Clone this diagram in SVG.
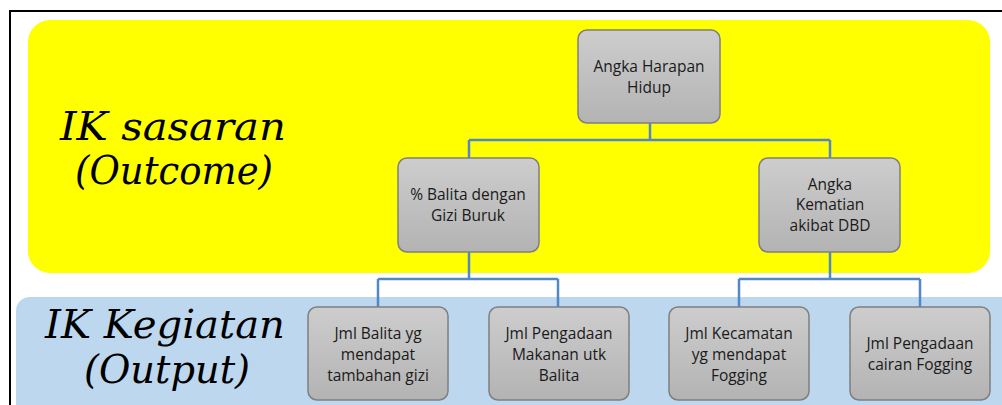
<svg xmlns="http://www.w3.org/2000/svg" width="1002" height="405" viewBox="0 0 1002 405">
<style>
.nbox{fill:url(#g);stroke:#7f7f7f;stroke-width:1.5}
.nt{font-family:"Open Sans","Noto Sans",sans-serif;font-size:15.5px;fill:#1a1a1a;text-anchor:middle}
.lab{font-family:"DejaVu Serif","Liberation Serif",serif;font-style:italic;font-size:39px;fill:#000}
.con{fill:none;stroke:#5288c4;stroke-width:2.5}
</style>
<defs>
<linearGradient id="g" x1="0" y1="0" x2="0" y2="1">
<stop offset="0" stop-color="#cdcdcd"/>
<stop offset="1" stop-color="#b3b3b3"/>
</linearGradient>
</defs>
<rect x="0" y="0" width="1002" height="405" fill="#fff"/>
<path d="M10,406 V11 H1003" fill="none" stroke="#000" stroke-width="2"/>
<rect id="bg-outcome" x="28" y="20" width="962" height="253" rx="22" fill="#ffff00"/>
<rect id="bg-output" x="16" y="297" width="1000" height="130" rx="14" fill="#bdd7ee"/>
<text class="lab" x="173" y="140" text-anchor="middle" textLength="226" lengthAdjust="spacingAndGlyphs">IK sasaran</text>
<text class="lab" x="174" y="184" text-anchor="middle" textLength="198" lengthAdjust="spacingAndGlyphs">(Outcome)</text>
<text class="lab" x="165" y="338" text-anchor="middle" textLength="240" lengthAdjust="spacingAndGlyphs">IK Kegiatan</text>
<text class="lab" x="167" y="383" text-anchor="middle" textLength="166" lengthAdjust="spacingAndGlyphs">(Output)</text>
<g id="connectors">
<path class="con" d="M650,123 V140 M469,140 H830 M469,140 V158 M830,140 V158"/>
<path class="con" d="M469,252 V279 M378,279 H558 M378,279 V307 M558,279 V307"/>
<path class="con" d="M830,252 V279 M739,279 H920 M739,279 V307 M920,279 V307"/>
</g>
<g id="n-ahh">
<rect class="nbox" x="578" y="30" width="142" height="93" rx="9"/>
<text class="nt" x="649" y="72">Angka Harapan</text>
<text class="nt" x="649" y="93">Hidup</text>
</g>
<g id="n-gizi">
<rect class="nbox" x="398" y="158" width="141" height="94" rx="9"/>
<text class="nt" x="468" y="200">% Balita dengan</text>
<text class="nt" x="468" y="221">Gizi Buruk</text>
</g>
<g id="n-dbd">
<rect class="nbox" x="759" y="158" width="141" height="94" rx="9"/>
<text class="nt" x="830" y="190">Angka</text>
<text class="nt" x="830" y="210">Kematian</text>
<text class="nt" x="830" y="231">akibat DBD</text>
</g>
<g id="n-b1">
<rect class="nbox" x="308" y="307" width="140" height="93" rx="9"/>
<text class="nt" x="378" y="339">Jml Balita yg</text>
<text class="nt" x="378" y="360">mendapat</text>
<text class="nt" x="378" y="381">tambahan gizi</text>
</g>
<g id="n-b2">
<rect class="nbox" x="489" y="307" width="140" height="93" rx="9"/>
<text class="nt" x="559" y="339">Jml Pengadaan</text>
<text class="nt" x="559" y="360">Makanan utk</text>
<text class="nt" x="559" y="381">Balita</text>
</g>
<g id="n-b3">
<rect class="nbox" x="669" y="307" width="140" height="93" rx="9"/>
<text class="nt" x="739" y="339">Jml Kecamatan</text>
<text class="nt" x="739" y="360">yg mendapat</text>
<text class="nt" x="739" y="381">Fogging</text>
</g>
<g id="n-b4">
<rect class="nbox" x="850" y="307" width="140" height="93" rx="9"/>
<text class="nt" x="920" y="349">Jml Pengadaan</text>
<text class="nt" x="920" y="370">cairan Fogging</text>
</g>
</svg>
